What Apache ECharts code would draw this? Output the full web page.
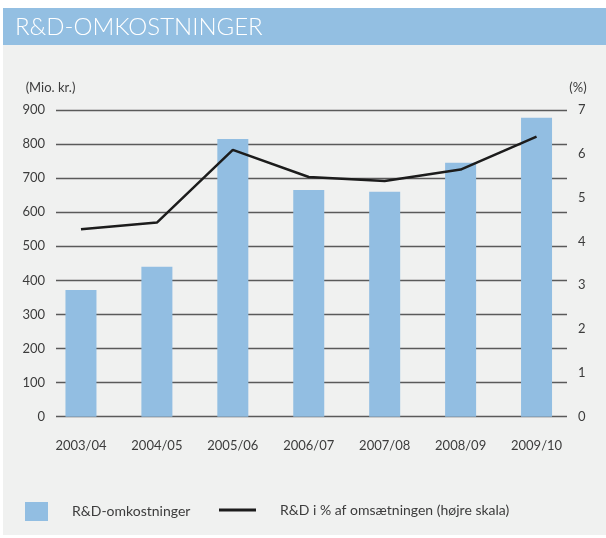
<!doctype html>
<html>
    <head>
        <meta charset="utf-8">
        <title>R&amp;D-omkostninger</title>
        <style>
            html, body { margin: 0; padding: 0; background: #fff; }
            #main { width: 606px; height: 538px; }
        </style>
    </head>
    <body>
        <div id="main"></div>
        <script src="https://cdn.jsdelivr.net/npm/echarts@6/dist/echarts.min.js"></script>
        <script>
            // data
            var years = ['2003/04', '2004/05', '2005/06', '2006/07', '2007/08', '2008/09', '2009/10'];
            var rdCost = [372, 440, 815, 665, 660, 745, 877];          // Mio. kr.
            var rdPct = [4.28, 4.43, 6.09, 5.47, 5.38, 5.64, 6.39];    // % of revenue
            var costName = 'R&D-omkostninger';
            var pctName = 'R&D i % af omsætningen (højre skala)';

            var font = 'Lato, "Open Sans", sans-serif';
            var txt = '#3c3c3c';

            var chart = echarts.init(document.getElementById('main'));

            chart.setOption({
                backgroundColor: '#ffffff',
                animation: false,
                textStyle: { fontFamily: font },
                // header bar + panel
                graphic: [
                    { type: 'rect', z: -10, shape: { x: 3, y: 8, width: 603, height: 37 }, style: { fill: '#93bfe2' } },
                    { type: 'rect', z: -10, shape: { x: 3, y: 45, width: 603, height: 490 }, style: { fill: '#f0f1f0' } },
                    { type: 'text', z: 10, x: 15, y: 27, style: {
                        text: 'R&D-OMKOSTNINGER', fill: '#ffffff', font: '300 24px ' + font,
                        verticalAlign: 'middle'
                    } }
                ],
                grid: [
                    // frame grid: carries the gridlines and the tick labels
                    { left: 56, right: 39, top: 110, bottom: 121.3 },
                    // data grid: category band is wider than the gridlines
                    { left: 43, right: 31.5, top: 110, bottom: 121.3 }
                ],
                legend: [
                    {
                        data: [{ name: costName, icon: 'rect' }], left: 25, top: 502, padding: 0,
                        itemWidth: 23, itemHeight: 19,
                        textStyle: { color: txt, fontSize: 14, padding: [0, 0, 0, 19] }
                    },
                    {
                        data: [{ name: pctName, icon: 'rect' }], left: 219, top: 503, padding: 0,
                        itemWidth: 37, itemHeight: 3,
                        itemStyle: { color: '#1c1c1c', borderWidth: 0 },
                        textStyle: { color: txt, fontSize: 14, padding: [0, 0, 0, 19] }
                    }
                ],
                xAxis: [
                    { gridIndex: 0, type: 'value', min: 0, max: 1, show: false },
                    {
                        gridIndex: 1, type: 'category', data: years,
                        axisLine: { show: false }, axisTick: { show: false },
                        axisLabel: { color: txt, fontSize: 13, margin: 23 }
                    }
                ],
                yAxis: [
                    {
                        gridIndex: 0, type: 'value', min: 0, max: 900, interval: 100,
                        name: '(Mio. kr.)', nameLocation: 'end', nameGap: 16,
                        nameTextStyle: { color: txt, fontSize: 13, padding: [0, 11, 0, 0] },
                        axisLine: { show: false }, axisTick: { show: false },
                        axisLabel: { color: txt, fontSize: 13, margin: 11 },
                        splitLine: { lineStyle: { color: '#5a5a5a', width: 1.3 } }
                    },
                    {
                        gridIndex: 0, type: 'value', min: 0, max: 7, interval: 1, position: 'right',
                        name: '(%)', nameLocation: 'end', nameGap: 16,
                        nameTextStyle: { color: txt, fontSize: 13, padding: [0, 0, 0, 22] },
                        axisLine: { show: false }, axisTick: { show: false },
                        axisLabel: { color: txt, fontSize: 13, margin: 11 },
                        splitLine: { show: false }
                    },
                    { gridIndex: 1, type: 'value', min: 0, max: 900, show: false, splitLine: { show: false } },
                    { gridIndex: 1, type: 'value', min: 0, max: 7, show: false, splitLine: { show: false } }
                ],
                series: [
                    {
                        name: costName, type: 'bar', xAxisIndex: 1, yAxisIndex: 2,
                        barWidth: 31, data: rdCost, z: 3,
                        itemStyle: { color: '#92bee2' }
                    },
                    {
                        name: pctName, type: 'line', xAxisIndex: 1, yAxisIndex: 3,
                        data: rdPct, symbol: 'none', z: 4,
                        lineStyle: { color: '#1c1c1c', width: 2.5 },
                        itemStyle: { color: '#1c1c1c' }
                    }
                ]
            });
        </script>
    </body>
</html>
